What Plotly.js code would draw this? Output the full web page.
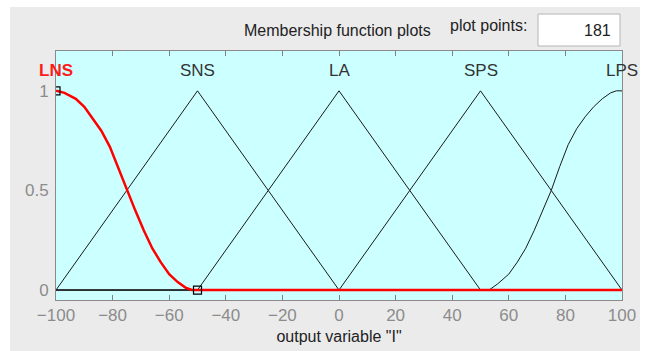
<!DOCTYPE html>
<html><head><meta charset="utf-8">
<script src="https://cdn.plot.ly/plotly-3.0.1.min.js"></script>
<style>html,body{margin:0;padding:0;background:#fff}#chart{width:645px;height:351px}</style>
</head><body><div id="chart"></div>
<script>
// Output variable "I" membership functions
const mfNames = ['LNS', 'SNS', 'LA', 'SPS', 'LPS'];
const mfPeaks = [-100, -50, 0, 50, 100];

const lnsX = [-100, -97, -93, -90, -87, -84, -81, -78, -75, -72, -69, -66, -63, -60, -57, -54, -52, -50, 100];
const lnsY = [1.0, 0.99, 0.96, 0.92, 0.86, 0.80, 0.72, 0.61, 0.50, 0.40, 0.30, 0.21, 0.14, 0.08, 0.04, 0.01, 0.0, 0.0, 0.0];

const snsX = [-100, -75, -50, 0, 100];
const snsY = [0, 0.5, 1, 0, 0];

const laX = [-100, -50, -25, 0, 25, 50, 100];
const laY = [0, 0, 0.5, 1, 0.5, 0, 0];

const spsX = [-100, 0, 25, 50, 75, 100];
const spsY = [0, 0, 0.5, 1, 0.5, 0];

const lpsX = [-100, 50, 53, 56, 60, 63, 66, 69, 72, 75, 78, 81, 84, 87, 90, 93, 96, 98, 100];
const lpsY = [0, 0, 0.0, 0.03, 0.08, 0.14, 0.21, 0.30, 0.40, 0.50, 0.62, 0.73, 0.81, 0.87, 0.92, 0.96, 0.99, 1.0, 1.0];

const handleX = [-100, -50];
const handleY = [1, 0];

const xTicks = [-100, -80, -60, -40, -20, 0, 20, 40, 60, 80, 100];
const yTicks = [0, 0.5, 1];
const plotPoints = '181';

const FF = 'Liberation Sans, Arial, sans-serif';
const blk = {color: '#1a1a1a', width: 1};
const traces = [
  {x: snsX, y: snsY, mode: 'lines', line: blk, hoverinfo: 'skip'},
  {x: laX, y: laY, mode: 'lines', line: blk, hoverinfo: 'skip'},
  {x: spsX, y: spsY, mode: 'lines', line: blk, hoverinfo: 'skip'},
  {x: lpsX, y: lpsY, mode: 'lines', line: blk, hoverinfo: 'skip'},
  {x: lnsX, y: lnsY, mode: 'lines', line: {color: '#ff0000', width: 2.5}, hoverinfo: 'skip'},
  {x: handleX, y: handleY, mode: 'markers', cliponaxis: true,
   marker: {symbol: 'square-open', size: 8, color: '#000', line: {width: 1.2, color: '#000'}}, hoverinfo: 'skip'}
];

const tickFont = {family: FF, size: 17, color: '#8c8c8c'};
const annotations = mfNames.map((n, i) => ({
  x: mfPeaks[i], y: 1.1, xref: 'x', yref: 'y', text: n, showarrow: false,
  font: {family: FF, size: 17, color: i === 0 ? '#ff1a1a' : '#333333', weight: i === 0 ? 'bold' : 'normal'},
  xanchor: 'center', yanchor: 'middle'
}));
const px = v => (v - 56) / 566;
const py = v => (300 - v) / 249;
annotations.push(
  {x: px(337), y: py(31), xref: 'paper', yref: 'paper', text: 'Membership function plots', showarrow: false,
   font: {family: FF, size: 16, color: '#222'}, xanchor: 'center', yanchor: 'middle'},
  {x: px(488), y: py(25), xref: 'paper', yref: 'paper', text: 'plot points:', showarrow: false,
   font: {family: FF, size: 16, color: '#222'}, xanchor: 'center', yanchor: 'middle'},
  {x: px(613), y: py(31), xref: 'paper', yref: 'paper', text: plotPoints, showarrow: false,
   font: {family: FF, size: 16, color: '#222'}, xanchor: 'right', yanchor: 'middle'}
);

const layout = {
  width: 645, height: 351,
  margin: {l: 56, r: 23, t: 51, b: 51, pad: 0},
  paper_bgcolor: '#ebebeb',
  plot_bgcolor: '#ccffff',
  showlegend: false,
  xaxis: {range: [-100, 100], tickvals: xTicks, ticks: 'inside', ticklen: 5, tickcolor: '#808080',
          showline: true, linecolor: '#8a8a8a', linewidth: 1, mirror: 'ticks', showgrid: false, zeroline: false,
          tickfont: tickFont, fixedrange: true,
          title: {text: 'output variable "I"', font: {family: FF, size: 16, color: '#222'}, standoff: 6}},
  yaxis: {range: [-0.05, 1.2], tickvals: yTicks, ticktext: ['0', '0.5', '1'], ticks: '', showline: true,
          linecolor: '#8a8a8a', linewidth: 1, mirror: true, showgrid: false, zeroline: false,
          tickfont: tickFont, fixedrange: true, ticklabelstandoff: 3},
  annotations: annotations,
  shapes: [
    {type: 'rect', xref: 'paper', yref: 'paper', x0: px(-5), x1: px(650), y0: py(-5), y1: py(7), fillcolor: '#ffffff', line: {width: 0}, layer: 'below'},
    {type: 'rect', xref: 'paper', yref: 'paper', x0: px(-5), x1: px(10), y0: py(360), y1: py(-5), fillcolor: '#ffffff', line: {width: 0}, layer: 'below'},
    {type: 'rect', xref: 'paper', yref: 'paper', x0: px(640), x1: px(650), y0: py(360), y1: py(-5), fillcolor: '#ffffff', line: {width: 0}, layer: 'below'},
    {type: 'rect', xref: 'paper', yref: 'paper', x0: px(538), x1: px(620), y0: py(46), y1: py(14), fillcolor: '#ffffff', line: {width: 1, color: '#b5b5b5'}, layer: 'below'}
  ]
};
Plotly.newPlot('chart', traces, layout, {displayModeBar: false, staticPlot: true});
</script></body></html>
